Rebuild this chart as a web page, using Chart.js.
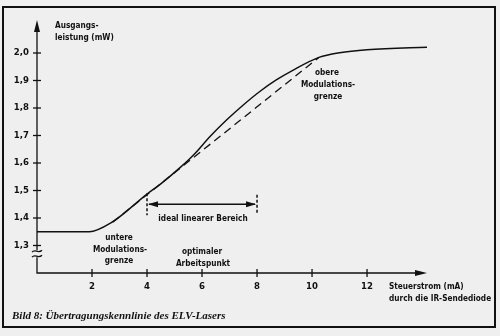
<!DOCTYPE html>
<html>
<head>
<meta charset="utf-8">
<script src="https://cdn.jsdelivr.net/npm/chart.js@4"></script>
<style>
  html, body { margin: 0; padding: 0; background: #efefef; }
  canvas { display: block; }
</style>
</head>
<body>
<canvas id="kennlinie" width="500" height="336"></canvas>
<script>
// Kennlinie (Steuerstrom mA -> Ausgangsleistung mW)
const stromMA    = [0, 1.9, 2.7, 4.0, 4.5, 5.2, 5.7, 6.3, 6.9, 7.5, 8.1, 8.7, 9.3, 10.25, 11.0, 12.0, 14.35];
const leistungMW = [1.35, 1.35, 1.383, 1.487, 1.524, 1.583, 1.630, 1.697, 1.757, 1.811, 1.860, 1.902, 1.937, 1.984, 2.001, 2.012, 2.022];

// ideale Gerade zwischen unterer und oberer Modulationsgrenze
const geradeX = [2.75, 10.25];
const geradeY = [1.385, 1.984];

// ideal linearer Bereich
const bereichX = [4, 8];
const bereichY = 1.45;

const xTicks = [2, 4, 6, 8, 10, 12];
const yTicks = [1.3, 1.4, 1.5, 1.6, 1.7, 1.8, 1.9, 2.0];

const FONT = '"DejaVu Sans Condensed", "Liberation Sans Narrow", sans-serif';

// schmal gesetzter Text (Normschrift)
function txt(ctx, s, x, y) {
  ctx.save();
  ctx.translate(x, y);
  ctx.scale(0.91, 1);
  ctx.fillText(s, 0, 0);
  ctx.restore();
}

const zeichnung = {
  id: 'zeichnung',
  afterDraw(chart) {
    const { ctx, chartArea: a } = chart;
    const xs = chart.scales.x, ys = chart.scales.y;
    const x0 = xs.getPixelForValue(0);
    const yb = ys.getPixelForValue(1.2);
    ctx.save();
    ctx.strokeStyle = '#111';
    ctx.fillStyle = '#111';

    // Rahmen
    ctx.lineWidth = 2;
    ctx.strokeRect(3, 7, 492, 320);

    // y-Achse mit Bruch
    ctx.lineWidth = 1.3;
    const brk = ys.getPixelForValue(1.272);
    ctx.beginPath();
    ctx.moveTo(x0, a.top + 8);
    ctx.lineTo(x0, brk - 3);
    ctx.moveTo(x0, brk + 4);
    ctx.lineTo(x0, yb);
    ctx.lineTo(a.right - 8, yb);
    ctx.stroke();
    // Bruchzeichen
    [brk - 2, brk + 3].forEach(yy => {
      ctx.beginPath();
      ctx.moveTo(x0 - 5, yy + 1);
      ctx.bezierCurveTo(x0 - 2, yy - 3, x0 + 1, yy + 3, x0 + 5, yy - 1);
      ctx.stroke();
    });
    // Pfeile
    ctx.beginPath();
    ctx.moveTo(x0, a.top);
    ctx.lineTo(x0 - 3, a.top + 12);
    ctx.lineTo(x0 + 3, a.top + 12);
    ctx.closePath();
    ctx.fill();
    ctx.beginPath();
    ctx.moveTo(a.right, yb);
    ctx.lineTo(a.right - 12, yb - 3);
    ctx.lineTo(a.right - 12, yb + 3);
    ctx.closePath();
    ctx.fill();

    // Teilstriche und Beschriftung
    ctx.font = 'bold 9.5px ' + FONT;
    ctx.textBaseline = 'middle';
    ctx.textAlign = 'right';
    yTicks.forEach(v => {
      const py = ys.getPixelForValue(v);
      ctx.beginPath();
      ctx.moveTo(x0 - 4, py);
      ctx.lineTo(x0 + 4, py);
      ctx.stroke();
      ctx.fillText(v.toFixed(1).replace('.', ','), x0 - 8, py);
    });
    ctx.textAlign = 'center';
    xTicks.forEach(v => {
      const px = xs.getPixelForValue(v);
      ctx.beginPath();
      ctx.moveTo(px, yb - 4);
      ctx.lineTo(px, yb + 4);
      ctx.stroke();
      ctx.fillText(String(v), px, yb + 14);
    });

    // Bereichspfeil
    const bx1 = xs.getPixelForValue(bereichX[0]);
    const bx2 = xs.getPixelForValue(bereichX[1]);
    const by = ys.getPixelForValue(bereichY);
    ctx.lineWidth = 1.3;
    ctx.beginPath();
    ctx.moveTo(bx1 + 2, by);
    ctx.lineTo(bx2 - 2, by);
    ctx.stroke();
    ctx.beginPath();
    ctx.moveTo(bx1 + 1, by); ctx.lineTo(bx1 + 11, by - 3); ctx.lineTo(bx1 + 11, by + 3); ctx.closePath();
    ctx.moveTo(bx2 - 1, by); ctx.lineTo(bx2 - 11, by - 3); ctx.lineTo(bx2 - 11, by + 3); ctx.closePath();
    ctx.fill();
    ctx.setLineDash([3, 2]);
    ctx.lineWidth = 1.5;
    ctx.beginPath();
    ctx.moveTo(bx1, ys.getPixelForValue(1.49));
    ctx.lineTo(bx1, ys.getPixelForValue(1.41));
    ctx.moveTo(bx2, ys.getPixelForValue(1.485));
    ctx.lineTo(bx2, ys.getPixelForValue(1.415));
    ctx.stroke();
    ctx.setLineDash([]);

    // Texte
    ctx.font = 'bold 9px ' + FONT;
    ctx.textAlign = 'left';
    txt(ctx, 'Ausgangs-', 55, 26);
    txt(ctx, 'leistung (mW)', 55, 38);
    txt(ctx, 'Steuerstrom (mA)', 389, 287);
    txt(ctx, 'durch die IR-Sendediode', 389, 299);
    ctx.textAlign = 'center';
    txt(ctx, 'obere', 327, 73);
    txt(ctx, 'Modulations-', 328, 85);
    txt(ctx, 'grenze', 328, 97);
    txt(ctx, 'untere', 119, 238);
    txt(ctx, 'Modulations-', 120, 250);
    txt(ctx, 'grenze', 119, 261);
    txt(ctx, 'optimaler', 202, 252);
    txt(ctx, 'Arbeitspunkt', 203, 264);
    txt(ctx, 'ideal linearer Bereich', 203, 219);

    // Bildunterschrift
    ctx.textAlign = 'left';
    ctx.textBaseline = 'alphabetic';
    ctx.font = 'italic bold 11px "Liberation Serif", serif';
    ctx.fillText('Bild 8: Übertragungskennlinie des ELV-Lasers', 12, 319);
    ctx.restore();
  }
};

new Chart(document.getElementById('kennlinie'), {
  type: 'line',
  data: {
    datasets: [
      {
        label: 'Kennlinie',
        data: stromMA.map((x, i) => ({ x, y: leistungMW[i] })),
        borderColor: '#111',
        borderWidth: 1.5,
        pointRadius: 0,
        cubicInterpolationMode: 'monotone',
        fill: false
      },
      {
        label: 'ideal',
        data: geradeX.map((x, i) => ({ x, y: geradeY[i] })),
        borderColor: '#111',
        borderWidth: 1.3,
        borderDash: [8, 5],
        pointRadius: 0,
        fill: false
      }
    ]
  },
  options: {
    responsive: false,
    animation: false,
    devicePixelRatio: 1,
    layout: { padding: { left: 37, top: 20, right: 73, bottom: 63 } },
    plugins: { legend: { display: false }, tooltip: { enabled: false } },
    scales: {
      x: { type: 'linear', min: 0, max: 14.18, display: false },
      y: { type: 'linear', min: 1.2, max: 2.12, display: false }
    }
  },
  plugins: [zeichnung]
});
</script>
</body>
</html>
